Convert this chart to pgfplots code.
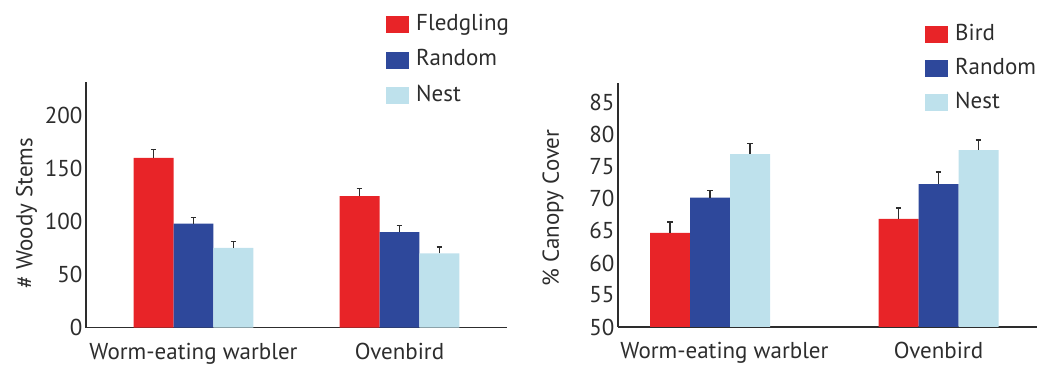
\documentclass[border=0pt]{standalone}
\usepackage{pgfplots}
\pgfplotsset{compat=1.18}
\usepackage{fontspec}
\setmainfont{PT Sans}

\definecolor{cRed}{RGB}{232,36,40}
\definecolor{cBlue}{RGB}{46,72,155}
\definecolor{cNest}{RGB}{190,225,236}
\definecolor{axisgray}{RGB}{45,45,45}

\newcommand{\chartfont}{\fontsize{23bp}{27bp}\selectfont}

\pgfplotsset{
  birdbars/.style={
    scale only axis,
    ybar=0pt,
    axis x line*=bottom,
    axis y line*=left,
    axis line style={axisgray, line width=1.3pt, -},
    major tick length=0pt,
    xticklabels={Worm-eating warbler, Ovenbird},
    tick label style={font=\chartfont, text=axisgray},
    xticklabel style={yshift=-12bp},
    label style={font=\chartfont, text=axisgray},
    /pgf/number format/assume math mode=true,
    enlargelimits=false,
    legend cell align=left,
    legend style={draw=none, fill=none, inner sep=0pt, font=\chartfont,
      text=axisgray, column sep=7bp,
      nodes={inner sep=0pt, anchor=west, text height=16bp, text depth=5bp}},
    legend image code/.code={\path[#1] (0bp,-8.5bp) rectangle (23bp,8.5bp);},
  },
  errs/.style={error bars/.cd, y dir=plus, y explicit,
    error bar style={draw=axisgray, line width=1.3pt},
    error mark options={draw=axisgray, line width=1.3pt, mark size=2.8bp, rotate=90}},
}

\begin{document}
\begin{tikzpicture}
\path[use as bounding box] (0,0) rectangle (1037bp,368bp);

% Woody stem counts
\begin{axis}[birdbars,
  at={(86bp,40.5bp)}, anchor=south west,
  width=421bp, height=245.5bp,
  xmin=-0.522, xmax=1.522, ymin=0, ymax=231.6,
  bar width=0.194, xtick={0,1},
  ytick={0,50,100,150,200},
  ylabel={\# Woody Stems},
  ylabel style={at={(axis description cs:-0.141,0.466)}, anchor=center},
  legend style={at={(axis description cs:0.7126,1.276)}, anchor=north west,
    row sep=14.5bp},
]
\addplot[fill=cRed, draw=none, errs] coordinates {(0,160) +- (0,8) (1,124) +- (0,7)};
\addplot[fill=cBlue, draw=none, errs] coordinates {(0,98) +- (0,6) (1,90) +- (0,6)};
\addplot[fill=cNest, draw=none, errs] coordinates {(0,75) +- (0,6) (1,70) +- (0,6)};
\legend{Fledgling, Random, Nest}
\end{axis}

% Canopy cover
\begin{axis}[birdbars,
  at={(618bp,41bp)}, anchor=south west,
  width=419bp, height=244bp,
  xmin=-0.403, xmax=1.431, ymin=50, ymax=88.1,
  bar width=0.175, xtick={0.063,1},
  ytick={50,55,60,65,70,75,80,85},
  ylabel={\% Canopy Cover},
  ylabel style={at={(axis description cs:-0.155,0.488)}, anchor=center},
  legend style={at={(axis description cs:0.7327,1.242)}, anchor=north west,
    row sep=13bp},
]
\addplot[fill=cRed, draw=none, errs] coordinates {(0,64.7) +- (0,1.7) (1,66.9) +- (0,1.7)};
\addplot[fill=cBlue, draw=none, errs] coordinates {(0,70.2) +- (0,1.1) (1,72.3) +- (0,1.9)};
\addplot[fill=cNest, draw=none, errs] coordinates {(0,77.0) +- (0,1.7) (1,77.6) +- (0,1.6)};
\legend{Bird, Random, Nest}
\end{axis}
\end{tikzpicture}
\end{document}
